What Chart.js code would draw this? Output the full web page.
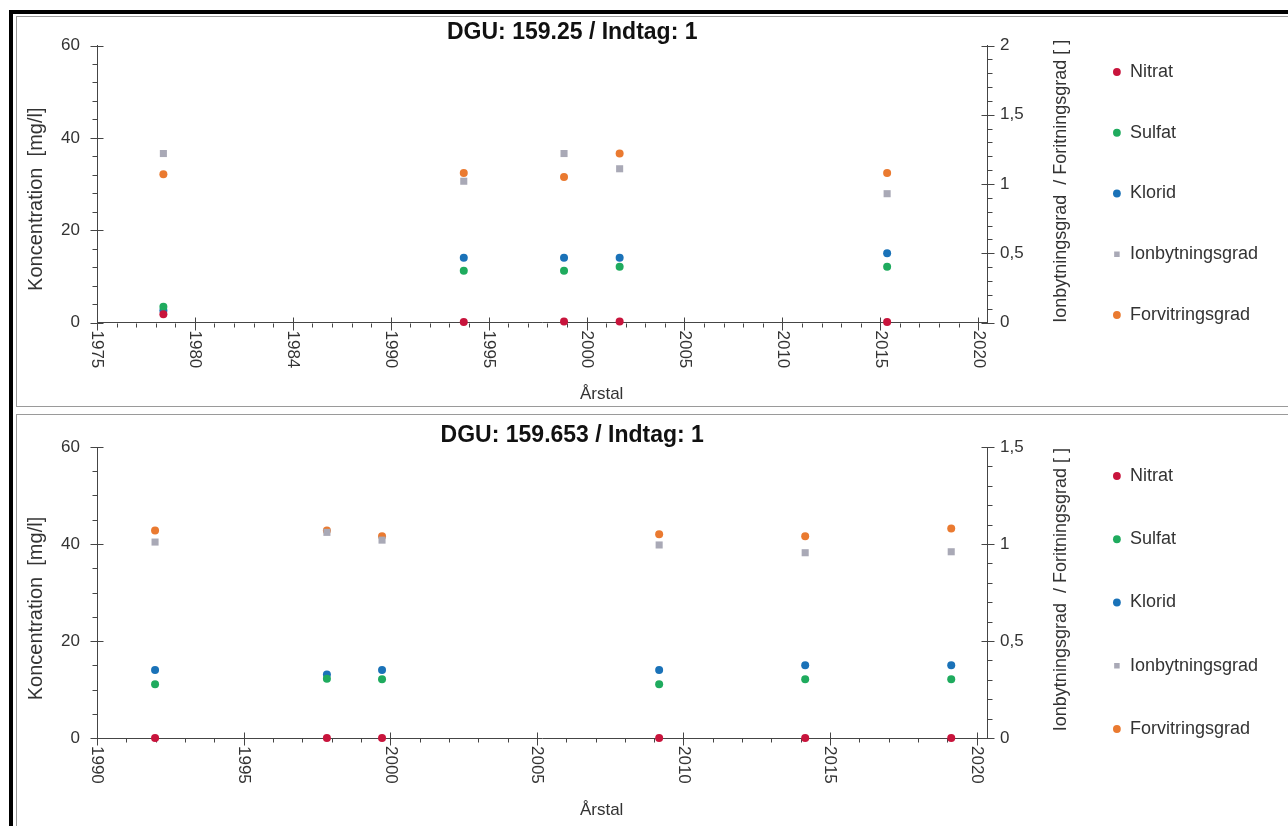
<!DOCTYPE html>
<html>
<head>
<meta charset="utf-8">
<script src="https://cdn.jsdelivr.net/npm/chart.js@4"></script>
<style>
  html, body { margin: 0; padding: 0; background: #fff; overflow: hidden; }
  body { width: 1288px; height: 826px; position: relative; }
  .frame { position: absolute; left: 9px; top: 10px; width: 1300px; height: 840px; border-left: 4px solid #000; border-top: 4px solid #000; }
  .panel { position: absolute; left: 16px; width: 1290px; border: 1px solid #9a9a9a; background: #fff; }
  #p1 { top: 16px; height: 389px; }
  #p2 { top: 414px; height: 420px; }
  canvas { position: absolute; left: 0; top: 0; }
</style>
</head>
<body>
<div class="frame"></div>
<div class="panel" id="p1"><canvas id="c1" width="1271" height="389"></canvas></div>
<div class="panel" id="p2"><canvas id="c2" width="1271" height="411"></canvas></div>
<script>
const FONT = "'Liberation Sans', Arial, sans-serif";

const seriesNames = ['Nitrat', 'Sulfat', 'Klorid', 'Ionbytningsgrad', 'Forvitringsgrad'];
const seriesColors = ['#c8143c', '#1fab5e', '#1a72b8', '#a9a9b6', '#ea7a30'];

// DGU 159.25
const topYears = [1978.39, 1993.73, 1998.85, 2001.69, 2015.35];
const topNitrat = [1.8, 0.1, 0.2, 0.2, 0.1];
const topSulfat = [3.4, 11.2, 11.2, 12.1, 12.1];
const topKlorid = [2.6, 14.0, 14.0, 14.0, 15.0];
const topIonbytning = [1.22, 1.02, 1.22, 1.11, 0.93];
const topForvitring = [1.07, 1.08, 1.05, 1.22, 1.08];
const topXTickLabels = ['1975', '1980', '1984', '1990', '1995', '2000', '2005', '2010', '2015', '2020'];

// DGU 159.653
const botYears = [1991.98, 1997.84, 1999.72, 2009.17, 2014.15, 2019.13];
const botNitrat = [0, 0, 0, 0, 0, 0];
const botSulfat = [11.1, 12.2, 12.1, 11.1, 12.1, 12.1];
const botKlorid = [14.0, 13.1, 14.0, 14.0, 15.0, 15.0];
const botIonbytning = [1.01, 1.06, 1.02, 0.995, 0.955, 0.96];
const botForvitring = [1.07, 1.07, 1.04, 1.05, 1.04, 1.08];
const botXTickLabels = ['1990', '1995', '2000', '2005', '2010', '2015', '2020'];

function isMajor(v, ticks) {
  return ticks.some(t => Math.abs(t.value - v) < 1e-6);
}

// minor/major tick marks, rotated year labels and axis titles
const axisDecor = {
  id: 'axisDecor',
  afterLayout(chart) {
    const t = chart.titleBlock, a = chart.chartArea;
    const c = a.left + 0.534 * (a.right - a.left);
    t.left = c - 300;
    t.right = c + 300;
  },
  beforeDatasetsDraw(chart, args, o) {
    const { ctx, chartArea: a, scales } = chart;
    const x = scales.x, y = scales.y, y1 = scales.y1;
    ctx.save();
    ctx.strokeStyle = '#454545';
    ctx.lineWidth = 1;
    ctx.beginPath();
    const xb = Math.round(a.bottom) + 0.5;
    for (let v = Math.ceil(x.min); v <= x.max; v++) {
      const px = Math.round(x.getPixelForValue(v)) + 0.5;
      if (isMajor(v, x.ticks)) { ctx.moveTo(px, xb - 6); ctx.lineTo(px, xb + 7); }
      else { ctx.moveTo(px, xb); ctx.lineTo(px, xb + 4); }
    }
    const yl = Math.round(a.left) + 0.5;
    const ny = Math.round(y.max / o.yMinor);
    for (let i = 0; i <= ny; i++) {
      const v = i * o.yMinor;
      const py = Math.round(y.getPixelForValue(v)) + 0.5;
      if (isMajor(v, y.ticks)) { ctx.moveTo(yl - 7, py); ctx.lineTo(yl + 6, py); }
      else { ctx.moveTo(yl - 5, py); ctx.lineTo(yl, py); }
    }
    const yr = Math.round(a.right) + 0.5;
    const n1 = Math.round(y1.max / o.y1Minor);
    for (let i = 0; i <= n1; i++) {
      const v = i * o.y1Minor;
      const py = Math.round(y1.getPixelForValue(v)) + 0.5;
      if (isMajor(v, y1.ticks)) { ctx.moveTo(yr - 6, py); ctx.lineTo(yr + 7, py); }
      else { ctx.moveTo(yr, py); ctx.lineTo(yr + 5, py); }
    }
    ctx.stroke();

    ctx.fillStyle = '#333';
    ctx.font = '17px ' + FONT;
    ctx.textAlign = 'left';
    ctx.textBaseline = 'middle';
    x.ticks.forEach((t, i) => {
      ctx.save();
      ctx.translate(x.getPixelForValue(t.value), a.bottom + 8);
      ctx.rotate(Math.PI / 2);
      ctx.fillText(o.xLabels[i], 0, 0);
      ctx.restore();
    });

    ctx.textAlign = 'center';
    ctx.fillText('Årstal', a.left + 0.567 * (a.right - a.left), a.bottom + 72);

    ctx.font = '20px ' + FONT;
    ctx.save();
    ctx.translate(19, a.top + 0.555 * (a.bottom - a.top));
    ctx.rotate(-Math.PI / 2);
    ctx.fillText('Koncentration  [mg/l]', 0, 0);
    ctx.restore();
    ctx.font = '18px ' + FONT;
    ctx.save();
    ctx.translate(a.right + 74, a.top + 0.49 * (a.bottom - a.top));
    ctx.rotate(-Math.PI / 2);
    ctx.fillText('Ionbytningsgrad  / Foritningsgrad [ ]', 0, 0);
    ctx.restore();
    ctx.restore();
  }
};

function makeDatasets(years, series) {
  return series.map((vals, i) => ({
    label: seriesNames[i],
    data: years.map((yr, k) => ({ x: yr, y: vals[k] })),
    yAxisID: i < 3 ? 'y' : 'y1',
    backgroundColor: seriesColors[i],
    borderColor: seriesColors[i],
    pointStyle: i === 3 ? 'rect' : 'circle',
    pointRadius: i === 3 ? 5 : 4,
    pointHoverRadius: i === 3 ? 5 : 4,
    pointBorderWidth: 0,
    showLine: false,
    clip: false
  }));
}

function makeChart(id, c) {
  return new Chart(document.getElementById(id), {
    type: 'scatter',
    data: { datasets: makeDatasets(c.years, c.series) },
    options: {
      responsive: false,
      animation: false,
      events: [],
      layout: { padding: { top: c.padTop, right: 20, left: 0, bottom: 0 } },
      scales: {
        x: {
          type: 'linear', min: c.xMin, max: c.xMax,
          afterBuildTicks: s => { s.ticks = c.xLabels.map((l, i) => ({ value: c.xMin + i * 5 })); },
          afterFit: s => { s.height = c.xHeight; },
          ticks: { display: false },
          grid: { display: false, drawTicks: false },
          border: { color: '#454545' }
        },
        y: {
          position: 'left', min: 0, max: 60,
          afterFit: s => { s.width = 80; },
          ticks: { stepSize: 20, padding: 17, color: '#333', font: { family: FONT, size: 17 } },
          grid: { display: false, drawTicks: false },
          border: { color: '#454545' }
        },
        y1: {
          position: 'right', min: 0, max: c.y1Max,
          afterFit: s => { s.width = s.chart.width - 20 - s.chart.legend.width - 970; },
          ticks: {
            stepSize: 0.5, padding: 13, color: '#333', font: { family: FONT, size: 17 },
            callback: v => String(v).replace('.', ',')
          },
          grid: { display: false, drawTicks: false },
          border: { color: '#454545' }
        }
      },
      plugins: {
        title: {
          display: true, text: c.title, color: '#111',
          font: { family: FONT, size: 23, weight: 'bold', lineHeight: 1 },
          padding: c.titlePad
        },
        legend: {
          position: 'right', align: 'start',
          labels: {
            usePointStyle: true, boxWidth: 8, boxHeight: 5.5, padding: c.legendPad,
            color: '#333', font: { family: FONT, size: 18 }
          }
        },
        tooltip: { enabled: false },
        axisDecor: { xLabels: c.xLabels, yMinor: c.yMinor, y1Minor: 0.1 }
      }
    },
    plugins: [axisDecor]
  });
}

makeChart('c1', {
  title: 'DGU: 159.25 / Indtag: 1',
  years: topYears,
  series: [topNitrat, topSulfat, topKlorid, topIonbytning, topForvitring],
  xMin: 1975, xMax: 2020.45, xLabels: topXTickLabels,
  y1Max: 2, yMinor: 4,
  padTop: 3.25, titlePad: { top: 1.25, bottom: 1 },
  legendPad: 42.75, xHeight: 83.5
});

makeChart('c2', {
  title: 'DGU: 159.653 / Indtag: 1',
  years: botYears,
  series: [botNitrat, botSulfat, botKlorid, botIonbytning, botForvitring],
  xMin: 1990, xMax: 2020.35, xLabels: botXTickLabels,
  y1Max: 1.5, yMinor: 5,
  padTop: 6.75, titlePad: { top: 2.25, bottom: 0 },
  legendPad: 45.25, xHeight: 88
});
</script>
</body>
</html>
